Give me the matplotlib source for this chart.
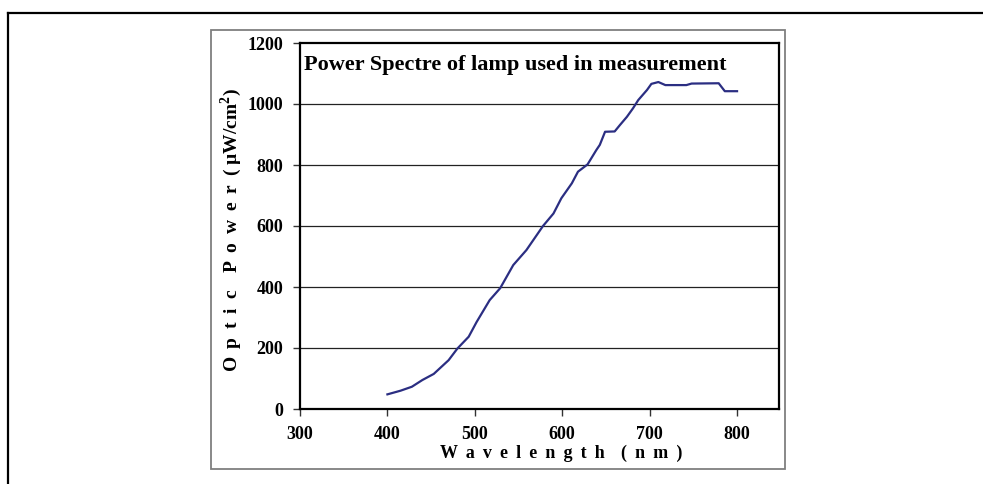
"""
Power spectrum of the lamp used in the measurement.
"""

import matplotlib
matplotlib.use('Agg')
import matplotlib.pyplot as plt
from matplotlib.lines import Line2D
from matplotlib.patches import Rectangle

# values
wavelength = [400, 415, 428, 440, 453, 470, 480, 493, 502, 517, 529, 544,
              559, 578, 590, 599, 611, 618, 629, 639, 643, 649, 660, 666,
              674, 681, 687, 697, 702, 710, 718, 742, 748, 779, 786, 800]
power = [48, 60, 73, 95, 115, 160, 198, 237, 285, 357, 396, 472,
         521, 600, 641, 691, 740, 778, 802, 849, 866, 909, 910, 931,
         958, 986, 1013, 1046, 1066, 1072, 1062, 1062, 1067, 1068, 1042, 1042]

x_ticks = [300, 400, 500, 600, 700, 800]
y_ticks = [0, 200, 400, 600, 800, 1000, 1200]

title = 'Power Spectre of lamp used in measurement'
gap = ' \u2009'
xlabel = gap.join('Wavelength') + gap * 2 + gap.join('(nm)')
ylabel = (gap.join('Optic') + gap * 2 + gap.join('Power') + gap
          + '( \u00b5W/cm$^{\\mathbf{2}}$)')

plt.rcParams['font.family'] = ['Liberation Serif', 'DejaVu Serif']
plt.rcParams['font.weight'] = 'bold'
plt.rcParams['mathtext.fontset'] = 'custom'
plt.rcParams['mathtext.rm'] = 'Liberation Serif'
plt.rcParams['mathtext.bf'] = 'Liberation Serif:bold'

W, H = 983, 484
fig = plt.figure(figsize=(W / 100, H / 100), dpi=100)
fig.patch.set_facecolor('white')

# outer frame (top and left edges only) and gray chart box
fig.add_artist(Line2D([8.3 / W, 1], [1 - 12.7 / H, 1 - 12.7 / H],
                      color='black', lw=1.6, transform=fig.transFigure))
fig.add_artist(Line2D([8.3 / W, 8.3 / W], [0, 1 - 12.7 / H],
                      color='black', lw=1.6, transform=fig.transFigure))
fig.add_artist(Rectangle((210.7 / W, 1 - 469 / H), (785 - 210.7) / W,
                         (469 - 30) / H, fill=False, edgecolor='#7f7f7f',
                         lw=1.3, transform=fig.transFigure))

ax = fig.add_axes([300 / W, 1 - 409 / H, (779 - 300) / W, (409 - 43) / H])
ax.plot(wavelength, power, color='#2b2e82', lw=1.6)

ax.set_xlim(300, 848)
ax.set_ylim(0, 1200)
ax.set_xticks(x_ticks)
ax.set_yticks(y_ticks)
for yv in y_ticks[1:-1]:
    ax.axhline(yv, color='#222222', lw=0.9, zorder=0)

for s in ax.spines.values():
    s.set_linewidth(1.6)
    s.set_color('black')
ax.tick_params(direction='out', length=5, width=1, color='#333333',
               labelsize=13, pad=7)
for lab in ax.get_xticklabels() + ax.get_yticklabels():
    lab.set_fontweight('bold')

fig.text(304 / W, 1 - 65 / H, title, fontsize=16, fontweight='bold',
         ha='left', va='center')
fig.text(561 / W, 1 - 453 / H, xlabel, fontsize=13, fontweight='bold',
         ha='center', va='center')
fig.text(231 / W, 1 - 230 / H, ylabel, fontsize=14, fontweight='bold',
         ha='center', va='center', rotation=90)

fig.savefig('out.png', dpi=100)
